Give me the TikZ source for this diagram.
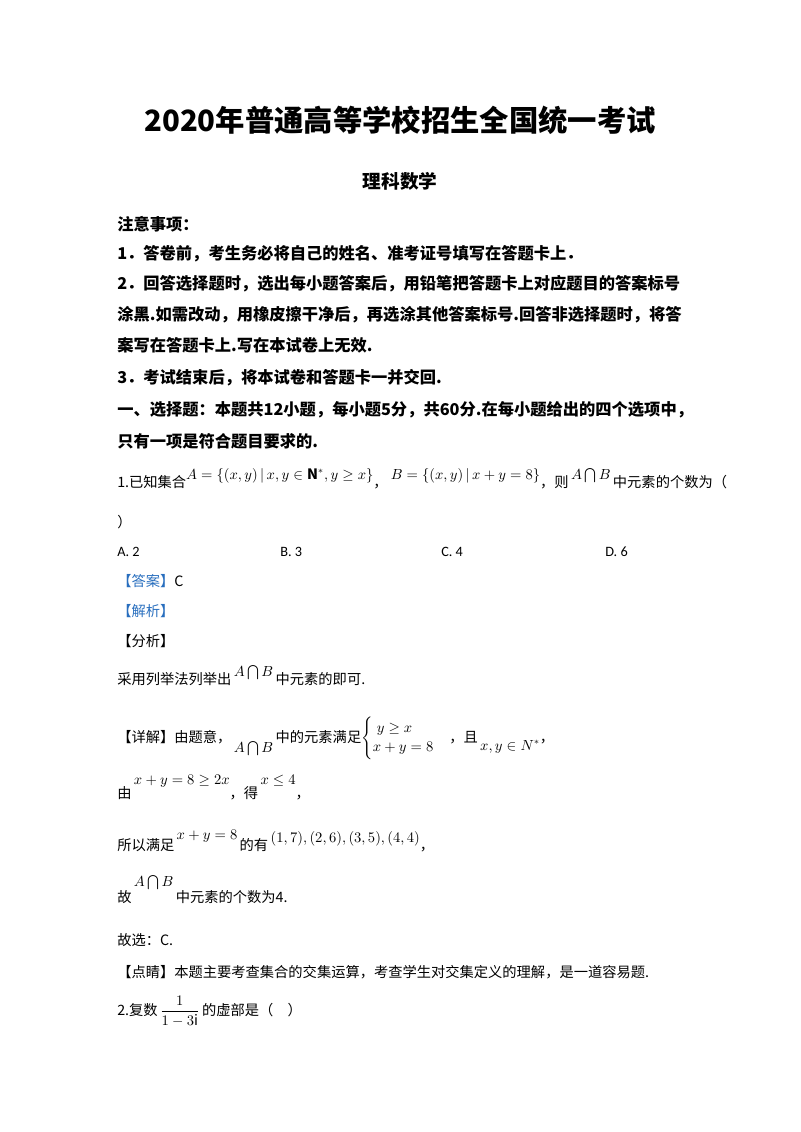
\documentclass[tikz,border=0pt]{standalone}
\usepackage{amsmath,amssymb}
\usepackage{fontspec}
\setmainfont{Noto Sans CJK SC}
\newfontfamily\latf{Carlito}
\definecolor{ansblue}{RGB}{40,110,190}
\begin{document}
\begin{tikzpicture}[x=0.75pt,y=-0.75pt,
  tx/.style={anchor=base west,inner sep=0pt,font=\fontsize{10.7}{12}\selectfont},
  bd/.style={anchor=base west,inner sep=0pt,font=\fontsize{12.2}{15}\selectfont\bfseries}]
\useasboundingbox (0,0) rectangle (800,1132);
\node[anchor=base,inner sep=0pt,font=\fontsize{22}{26}\selectfont\bfseries] (t1) at (400,131) {2020年普通高等学校招生全国统一考试};
\node[anchor=base,inner sep=0pt,font=\fontsize{14}{16}\selectfont\bfseries] (t2) at (400,188) {理科数学};
\node[bd] (n0) at (117,230) {注意事项：};
\node[bd] (n1) at (117,259) {1．答卷前，考生务必将自己的姓名、准考证号填写在答题卡上．};
\node[bd] (n2) at (117,289) {2．回答选择题时，选出每小题答案后，用铅笔把答题卡上对应题目的答案标号};
\node[bd] (n3) at (117,320) {涂黑.如需改动，用橡皮擦干净后，再选涂其他答案标号.回答非选择题时，将答};
\node[bd] (n4) at (117,351) {案写在答题卡上.写在本试卷上无效.};
\node[bd] (n5) at (117,383) {3．考试结束后，将本试卷和答题卡一并交回.};
\node[bd] (n6) at (117,415) {一、选择题：本题共12小题，每小题5分，共60分.在每小题给出的四个选项中，};
\node[bd] (n7) at (117,447) {只有一项是符合题目要求的.};
\node[tx] (q1) at (117,487) {1.已知集合\raisebox{6pt}{$A=\{(x,y)\,|\,x,y\in\mathbf{N}^*,y\geq x\}$}，\ \raisebox{6pt}{$B=\{(x,y)\,|\,x+y=8\}$}，则\,\raisebox{6pt}{$A\bigcap B$}\,中元素的个数为（};
\node[tx] (q1b) at (117,527) {）};
\node[tx,font=\latf\fontsize{10.7}{12}\selectfont] (oa) at (117,556) {A. 2};
\node[tx,font=\latf\fontsize{10.7}{12}\selectfont] (ob) at (280,556) {B. 3};
\node[tx,font=\latf\fontsize{10.7}{12}\selectfont] (oc) at (441,556) {C. 4};
\node[tx,font=\latf\fontsize{10.7}{12}\selectfont] (od) at (605,556) {D. 6};
\node[tx] (ans) at (117,586) {\textcolor{ansblue}{【答案】}C};
\node[tx,text=ansblue] (jx) at (117,616) {【解析】};
\node[tx] (fx) at (117,646) {【分析】};
\node[tx] (fx1) at (117,684) {采用列举法列举出\,\raisebox{6pt}{$A\bigcap B$}\,中元素的即可.};
\node[tx] (xj) at (117,742) {【详解】由题意，\,\raisebox{-8pt}{$A\bigcap B$}\,中的元素满足$\begin{cases}\;y\geq x\\ x+y=8\end{cases}$，且\,\raisebox{-6pt}{$x,y\in N^*$}，};
\node[tx] (l2) at (117,798) {由\,\raisebox{10pt}{$x+y=8\geq 2x$}，得\,\raisebox{10pt}{$x\leq 4$}，};
\node[tx] (l3) at (117,850) {所以满足\,\raisebox{8pt}{$x+y=8$}\,的有\,\raisebox{6pt}{$(1,7),(2,6),(3,5),(4,4)$}，};
\node[tx] (l4) at (117,902) {故\,\raisebox{12pt}{$A\bigcap B$}\,中元素的个数为4.};
\node[tx] (l5) at (117,945) {故选：C.};
\node[tx] (dj) at (117,977) {【点睛】本题主要考查集合的交集运算，考查学生对交集定义的理解，是一道容易题.};
\node[tx] (q2) at (117,1015) {2.复数\,$\dfrac{1}{1-3\mathrm{i}}$\,的虚部是（\quad）};
\end{tikzpicture}
\end{document}
